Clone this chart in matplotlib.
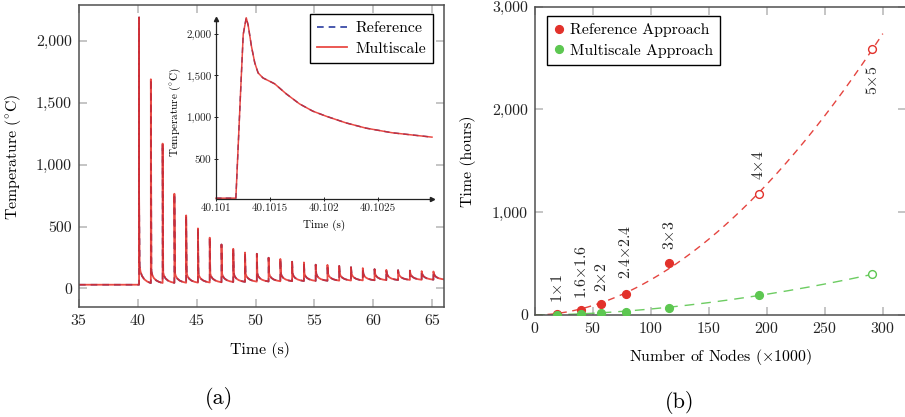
import numpy as np
import matplotlib
matplotlib.use('Agg')
import matplotlib.pyplot as plt
from matplotlib.ticker import FuncFormatter, FixedLocator, FixedFormatter
from matplotlib.lines import Line2D

plt.rcParams['font.family'] = ['cmr10', 'DejaVu Serif']
plt.rcParams['mathtext.fontset'] = 'cm'
plt.rcParams['axes.unicode_minus'] = False
plt.rcParams['axes.formatter.use_mathtext'] = True

# ---------------- data (a) ----------------
baseline_temp = 30
pulse_start = 40.101184
n_pulses = 26
pulse_peak = [2180, 1690, 1170, 765, 590, 485, 410, 355, 320, 290, 280, 248, 238,
              216, 210, 192, 190, 182, 172, 164, 156, 150, 148, 144, 140, 137]
pulse_shoulder = [180, 140, 130, 125, 122, 120, 120, 120, 120, 120, 120, 120, 120,
                  120, 120, 120, 120, 120, 120, 120, 120, 120, 120, 120, 118, 118]
pulse_min = [43, 44, 45, 46, 47, 48, 50, 52, 53, 55, 56, 58, 59,
             60, 61, 62, 63, 64, 65, 66, 67, 68, 69, 70, 71, 72]
decay_offset = [0.05, 0.12, 0.25, 0.45, 0.7, 0.999]
decay_frac = [1.0, 0.68, 0.42, 0.22, 0.09, 0.0]

inset_time = [40.1010, 40.101184, 40.101230, 40.101252, 40.101280, 40.101298,
              40.101328, 40.101359, 40.101390, 40.101435, 40.101497, 40.101543,
              40.101650, 40.101773, 40.101896, 40.102018, 40.102202, 40.102387,
              40.102632, 40.103000]
inset_temp = [32, 32, 1370, 1990, 2190, 2100, 1850, 1650, 1530, 1470, 1430, 1400,
              1280, 1160, 1073, 1013, 933, 870, 814, 762]

inset_xticks = [40.101, 40.1015, 40.102, 40.1025]
inset_xticklabels = ['40.101', '40.1015', '40.102', '40.1025']

# ---------------- data (b) ----------------
nodes = [19.3, 39.7, 57.2, 78.2, 115.6, 192.8, 290.9]
ref_hours = [5, 49, 108, 203, 507, 1176, 2582]
ms_hours = [3, 7, 16, 29, 69, 190, 395]
patch_labels = [r'1$\times$1', r'1.6$\times$1.6', r'2$\times$2', r'2.4$\times$2.4',
                r'3$\times$3', r'4$\times$4', r'5$\times$5']
ref_measured = [True, True, True, True, True, False, False]
ms_measured = [True, True, True, True, True, True, False]
label_offsets = [8, 8, 8.5, 11, 9, 10, -12]

# ---------------- build time series ----------------
t = [35.0, pulse_start]
T = [baseline_temp, baseline_temp]
for k in range(n_pulses):
    tp = pulse_start + k
    if k == 0:
        t += [x for x in inset_time[2:]]
        T += inset_temp[2:]
    else:
        t += [tp, tp + 0.0003]
        T += [pulse_min[k - 1], pulse_peak[k]]
    S, m = pulse_shoulder[k], pulse_min[k]
    for off, fr in zip(decay_offset, decay_frac):
        t.append(tp + off)
        T.append(m + fr * (S - m))
t = np.array(t)
T = np.array(T)

RED = '#e62c26'
BLUE = '#2a3ca0'
SPINE = '#505050'
TICK = '#b5b5b5'
FS = 11.4

W, H = 905, 417
fig = plt.figure(figsize=(W / 100, H / 100), dpi=100)


def px_axes(l, r, top, bot):
    return fig.add_axes([l / W, 1 - bot / H, (r - l) / W, (bot - top) / H])


comma = FuncFormatter(lambda v, p: f'{v:,.0f}')

# ---------------- panel (a) ----------------
ax = px_axes(79, 444, 5, 307)
ax.plot(t, T, color=BLUE, lw=1.2, dashes=(4, 3), label='Reference')
ax.plot(t, T, color=RED, lw=1.3, alpha=0.85, label='Multiscale')
ax.set_xlim(35, 66)
ax.set_ylim(-150, 2290)
ax.set_xticks(np.arange(35, 66, 5))
ax.set_yticks(np.arange(0, 2001, 500))
ax.yaxis.set_major_formatter(comma)
for s in ax.spines.values():
    s.set_color(SPINE)
    s.set_linewidth(1.1)
ax.tick_params(direction='in', top=True, right=True, length=5.5, width=1.1,
               color=TICK, labelsize=FS, labelcolor='#222222')
ax.tick_params(axis='y', pad=5)
ax.tick_params(axis='x', pad=4)
leg = ax.legend(loc='upper right', bbox_to_anchor=(433 / W, 1 - 14 / H),
                bbox_transform=fig.transFigure, borderaxespad=0, fancybox=False,
                edgecolor='black', fontsize=FS, handlelength=1.9, handletextpad=0.5,
                borderpad=0.45, labelspacing=0.42, framealpha=1)
leg.get_frame().set_linewidth(1.0)

fig.text(13 / W, 1 - 157 / H, r'Temperature ($^{\circ}$C)', rotation=90,
         ha='center', va='center', fontsize=FS)
fig.text(260 / W, 1 - 350 / H, 'Time (s)', ha='center', va='center', fontsize=FS)
fig.text(219 / W, 1 - 398 / H, '(a)', ha='center', va='center', fontsize=16)

# inset
axi = px_axes(216, 432, 19, 199)
axi.patch.set_alpha(0)
axi.plot(inset_time, inset_temp, color=BLUE, lw=1.0, dashes=(4, 3), clip_on=False)
axi.plot(inset_time, inset_temp, color=RED, lw=1.1, alpha=0.85, clip_on=False)
axi.set_xlim(40.101, 40.103)
axi.set_ylim(22, 2175)
axi.xaxis.set_major_locator(FixedLocator(inset_xticks))
axi.xaxis.set_major_formatter(FixedFormatter(inset_xticklabels))
axi.set_yticks([500, 1000, 1500, 2000])
axi.yaxis.set_major_formatter(comma)
axi.spines['top'].set_visible(False)
axi.spines['right'].set_visible(False)
for s in ('left', 'bottom'):
    axi.spines[s].set_color('#222222')
    axi.spines[s].set_linewidth(0.9)
axi.plot(1, 0, marker='>', color='#222222', ms=3, transform=axi.transAxes, clip_on=False)
axi.plot(0, 1, marker='^', color='#222222', ms=3, transform=axi.transAxes, clip_on=False)
axi.tick_params(direction='inout', length=3, width=0.7, color='#222222',
                labelsize=8, labelcolor='#222222', pad=2)
fig.text(175 / W, 1 - 112 / H, r'Temperature ($^{\circ}$C)', rotation=90,
         ha='center', va='center', fontsize=8)
fig.text(324 / W, 1 - 225 / H, 'Time (s)', ha='center', va='center', fontsize=8)

# ---------------- panel (b) ----------------
RRED = '#e2312b'
RGREEN = '#5dc751'
bx = px_axes(535, 906, 6.5, 315)
bx.set_xlim(0, 320)
bx.set_ylim(0, 3000)

xs = np.array(nodes)
for vals, color, meas, xend in ((ref_hours, RRED, ref_measured, 300),
                                (ms_hours, RGREEN, ms_measured, 297.7)):
    ys = np.array(vals, dtype=float)
    p, lnA = np.polyfit(np.log(xs), np.log(ys), 1, w=ys ** 2)
    xf = np.linspace(0, xend, 300)
    dash = (5, 4) if color == RRED else (7, 5)
    bx.plot(xf, np.exp(lnA) * xf ** p, color=color, lw=1.0, dashes=dash, alpha=0.9, zorder=2)
    meas = np.array(meas)
    bx.plot(xs[meas], ys[meas], 'o', color=color, ms=5.6, zorder=3)
    bx.plot(xs[~meas], ys[~meas], 'o', mfc='white', mec=color, mew=1.0, ms=5.6, zorder=3)

for x, y, lab, off in zip(nodes, ref_hours, patch_labels, label_offsets):
    bx.annotate(lab, (x, y), xytext=(0, off), textcoords='offset points', rotation=90,
                ha='center', va='bottom' if off > 0 else 'top', fontsize=FS,
                color='#222222')

bx.set_xticks(np.arange(0, 301, 50))
bx.set_yticks([0, 1000, 2000, 3000])
bx.yaxis.set_major_formatter(comma)
for s in bx.spines.values():
    s.set_color(SPINE)
    s.set_linewidth(1.1)
bx.tick_params(direction='in', top=True, right=True, length=5.5, width=1.1,
               color=TICK, labelsize=FS, labelcolor='#222222')
bx.tick_params(axis='y', pad=5)
bx.tick_params(axis='x', pad=4)

handles = [Line2D([], [], ls='none', marker='o', color=RRED, ms=5.6),
           Line2D([], [], ls='none', marker='o', color=RGREEN, ms=5.6)]
leg2 = bx.legend(handles, ['Reference Approach', 'Multiscale Approach'], loc='upper left',
                 bbox_to_anchor=(546.7 / W, 1 - 16 / H), bbox_transform=fig.transFigure,
                 borderaxespad=0, fancybox=False, edgecolor='black', fontsize=FS,
                 handlelength=0.6, handletextpad=0.4, borderpad=0.45, labelspacing=0.42,
                 framealpha=1)
leg2.get_frame().set_linewidth(1.0)

fig.text(468 / W, 1 - 161 / H, 'Time (hours)', rotation=90, ha='center', va='center',
         fontsize=FS)
fig.text(720 / W, 1 - 357 / H, r'Number of Nodes ($\times$1000)', ha='center', va='center',
         fontsize=FS)
fig.text(680 / W, 1 - 402 / H, '(b)', ha='center', va='center', fontsize=16)

fig.savefig('out.png', dpi=100)
